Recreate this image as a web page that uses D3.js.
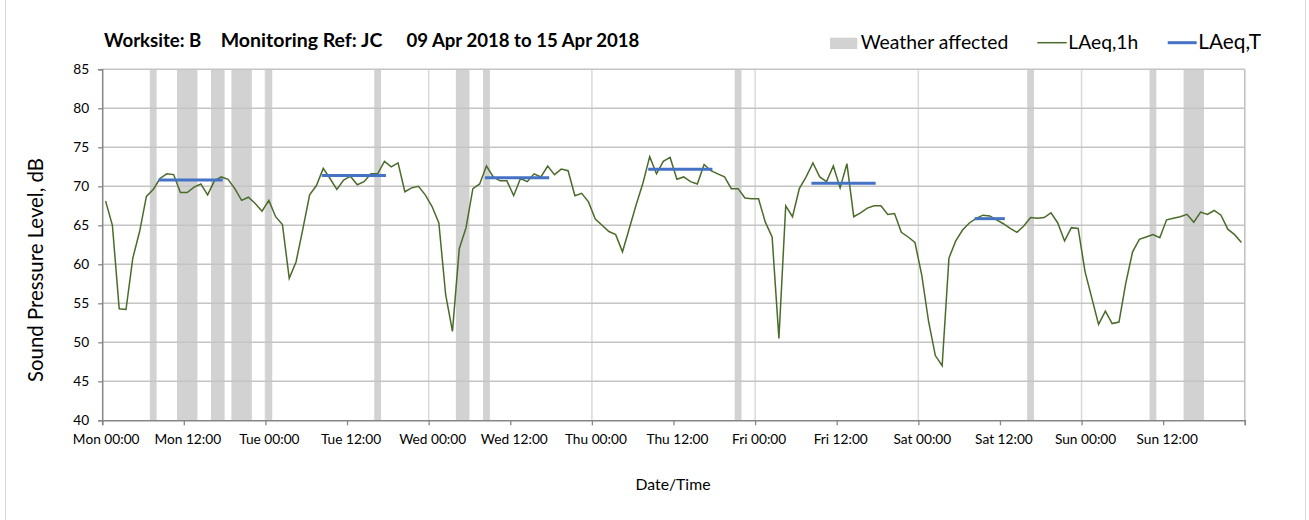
<!DOCTYPE html>
<html>
<head>
<meta charset="utf-8">
<script src="https://cdn.jsdelivr.net/npm/d3@7"></script>
<style>
  html, body { margin: 0; padding: 0; background: #fff; }
  svg { display: block; }
  text { font-family: Lato, "Open Sans", sans-serif; fill: #000; }
</style>
</head>
<body>
<svg id="chart" width="1309" height="520"></svg>
<script>
// ---------------- DATA ----------------
const titleParts = ["Worksite: B", "Monitoring Ref: JC", "09 Apr 2018 to 15 Apr 2018"];

// hourly LAeq,1h values, Mon 00:00 .. Sun 23:00 (168 hours)
const laeq1h = [
  68.1, 65.0, 54.3, 54.2, 60.8, 64.2, 68.7, 69.6, 71.0, 71.6, 71.5, 69.2, 69.2, 69.9, 70.3, 68.9, 70.7, 71.2, 70.9, 69.7, 68.2, 68.6, 67.8, 66.8,
  68.2, 66.1, 65.1, 58.2, 60.3, 64.5, 68.9, 70.1, 72.3, 71.0, 69.6, 70.8, 71.3, 70.2, 70.6, 71.6, 71.6, 73.2, 72.5, 73.0, 69.3, 69.8, 70.0, 68.9,
  67.4, 65.3, 56.1, 51.4, 62.0, 64.7, 69.7, 70.3, 72.6, 71.2, 70.7, 70.7, 68.8, 71.0, 70.6, 71.6, 71.2, 72.6, 71.5, 72.2, 72.0, 68.8, 69.1, 68.0,
  65.8, 65.0, 64.2, 63.8, 61.6, 64.6, 67.6, 70.4, 73.8, 71.6, 73.2, 73.7, 70.9, 71.2, 70.6, 70.3, 72.8, 72.0, 71.6, 71.2, 69.7, 69.7, 68.5, 68.4,
  68.4, 65.4, 63.5, 50.5, 67.5, 66.1, 69.7, 71.2, 73.0, 71.2, 70.6, 72.6, 69.8, 72.9, 66.1, 66.6, 67.2, 67.5, 67.5, 66.4, 66.5, 64.1, 63.5, 62.8,
  58.6, 52.7, 48.3, 47.0, 60.8, 63.0, 64.4, 65.3, 65.9, 66.3, 66.2, 65.7, 65.2, 64.6, 64.1, 64.9, 66.0, 65.9, 66.0, 66.6, 65.3, 63.0, 64.7, 64.6,
  59.1, 55.7, 52.3, 54.0, 52.4, 52.6, 57.6, 61.6, 63.2, 63.5, 63.8, 63.4, 65.7, 65.9, 66.1, 66.4, 65.4, 66.7, 66.4, 66.9, 66.3, 64.5, 63.8, 62.8
];

// hours flagged as weather affected (hour index from Mon 00:00)
const weatherHours = [7, 11, 12, 13, 16, 17, 19, 20, 21, 24, 40, 52, 53, 56, 93, 136, 154, 159, 160, 161];

// LAeq,T daytime periods (first hour index, last hour index, level)
const laeqTStart = [8, 32, 56, 80, 104, 128];
const laeqTEnd   = [17, 41, 65, 89, 113, 132];
const laeqTValue = [70.8, 71.4, 71.1, 72.2, 70.4, 65.85];

const xTickHours  = [0, 12, 24, 36, 48, 60, 72, 84, 96, 108, 120, 132, 144, 156, 168];
const xTickLabels = ["Mon 00:00", "Mon 12:00", "Tue 00:00", "Tue 12:00", "Wed 00:00", "Wed 12:00", "Thu 00:00",
                     "Thu 12:00", "Fri 00:00", "Fri 12:00", "Sat 00:00", "Sat 12:00", "Sun 00:00", "Sun 12:00", ""];
const yTicks = [40, 45, 50, 55, 60, 65, 70, 75, 80, 85];
const legendLabels = ["Weather affected", "LAeq,1h", "LAeq,T"];

// ---------------- CHART ----------------
const svg = d3.select("#chart");
const plotLeft = 102.2, plotRight = 1244.8, plotTop = 69.3, plotBottom = 420.3;

const x = d3.scaleLinear().domain([0, 168]).range([plotLeft, plotRight]);
const y = d3.scaleLinear().domain([40, 85]).range([plotBottom, plotTop]);

// helper: fit text to a target width by adjusting font-size
function fit(sel, target) {
  const node = sel.node();
  const base = parseFloat(sel.attr("font-size"));
  const w = node.getComputedTextLength();
  if (w > 0) sel.attr("font-size", (base * target / w).toFixed(2));
  return sel;
}

// chart area border
svg.append("rect").attr("x", 5.5).attr("y", -5).attr("width", 1300).attr("height", 530)
  .attr("fill", "none").attr("stroke", "#d9d9d9").attr("stroke-width", 1);

// weather bars: merge consecutive flagged hours into runs
const runs = [];
weatherHours.slice().sort((a, b) => a - b).forEach(h => {
  const last = runs[runs.length - 1];
  if (last && last[1] === h) last[1] = h + 1; else runs.push([h, h + 1]);
});
svg.append("g").selectAll("rect").data(runs).join("rect")
  .attr("x", d => x(d[0])).attr("width", d => x(d[1]) - x(d[0]))
  .attr("y", y(85)).attr("height", y(40) - y(85))
  .attr("fill", "#d2d2d2");

// vertical gridlines at each day start
svg.append("g").selectAll("line").data(xTickHours.filter(h => h % 24 === 0 && h > 0 && h < 168)).join("line")
  .attr("x1", d => x(d)).attr("x2", d => x(d))
  .attr("y1", y(85)).attr("y2", y(40))
  .attr("stroke", "#d9d9d9").attr("stroke-width", 1.5);

// horizontal gridlines
svg.append("g").selectAll("line").data(yTicks.filter(v => v > 40)).join("line")
  .attr("x1", plotLeft).attr("x2", plotRight)
  .attr("y1", d => y(d)).attr("y2", d => y(d))
  .attr("stroke", "#c4c4c4").attr("stroke-width", 1.5);

// right plot border
svg.append("line").attr("x1", plotRight).attr("x2", plotRight).attr("y1", y(85)).attr("y2", y(40))
  .attr("stroke", "#bfbfbf").attr("stroke-width", 1.5);

// LAeq,1h line
const line = d3.line().x((d, i) => x(i + 0.5)).y(d => y(d));
svg.append("path").datum(laeq1h).attr("d", line)
  .attr("fill", "none").attr("stroke", "#4b6b2b").attr("stroke-width", 1.5)
  .attr("stroke-linejoin", "miter");

// LAeq,T segments
svg.append("g").selectAll("line").data(laeqTValue).join("line")
  .attr("x1", (d, i) => x(laeqTStart[i] + 0.5)).attr("x2", (d, i) => x(laeqTEnd[i] + 0.5))
  .attr("y1", d => y(d)).attr("y2", d => y(d))
  .attr("stroke", "#4472c4").attr("stroke-width", 3).attr("stroke-linecap", "square");

// axes
const yAxis = d3.axisLeft(y).tickValues(yTicks).tickSize(4).tickFormat(d3.format("d"));
const gy = svg.append("g").attr("transform", `translate(${plotLeft},0)`).call(yAxis);
gy.select(".domain").attr("stroke", "#868686").attr("stroke-width", 1.5);
gy.selectAll(".tick line").attr("stroke", "#868686").attr("stroke-width", 1.3);
gy.selectAll(".tick text").attr("font-family", "Lato, sans-serif").attr("font-size", 13)
  .attr("x", -13).attr("fill", "#000");

const xAxis = d3.axisBottom(x).tickValues(xTickHours).tickSize(5)
  .tickFormat((d, i) => xTickLabels[i]);
const gx = svg.append("g").attr("transform", `translate(0,${plotBottom})`).call(xAxis);
gx.select(".domain").attr("stroke", "#868686").attr("stroke-width", 1.5);
gx.selectAll(".tick line").attr("stroke", "#868686").attr("stroke-width", 1.3);
gx.selectAll(".tick text").attr("font-family", "Lato, sans-serif").attr("font-size", 13)
  .attr("x", 3.5).attr("y", 14).attr("fill", "#000");
// fit tick label font size
{
  const t = gx.select(".tick text");
  const w = t.node().getComputedTextLength();
  const fs = 13 * 66.7 / w;
  gx.selectAll(".tick text").attr("font-size", fs.toFixed(2));
  gy.selectAll(".tick text").attr("font-size", fs.toFixed(2));
}

// title
const titleX = [104, 220.7, 406.4];
const titleW = [97.4, 161.8, 233.2];
titleParts.forEach((t, i) => {
  const s = svg.append("text").attr("x", titleX[i]).attr("y", 47)
    .attr("font-size", 16).attr("font-weight", "bold").text(t);
  fit(s, titleW[i]);
});

// axis titles
fit(svg.append("text").attr("transform", `translate(43,270) rotate(-90)`)
  .attr("text-anchor", "middle").attr("font-size", 17).text("Sound Pressure Level, dB"), 224);
fit(svg.append("text").attr("x", 673).attr("y", 490)
  .attr("text-anchor", "middle").attr("font-size", 17).text("Date/Time"), 75);

// legend
const lg = svg.append("g");
lg.append("rect").attr("x", 830).attr("y", 37.7).attr("width", 27.3).attr("height", 11.3).attr("fill", "#d2d2d2");
fit(lg.append("text").attr("x", 860.7).attr("y", 49).attr("font-size", 17).text(legendLabels[0]), 147.6);
lg.append("line").attr("x1", 1037.3).attr("x2", 1066.7).attr("y1", 42.7).attr("y2", 42.7)
  .attr("stroke", "#4b6b2b").attr("stroke-width", 1.5);
fit(lg.append("text").attr("x", 1068.3).attr("y", 49).attr("font-size", 17).text(legendLabels[1]), 70);
lg.append("line").attr("x1", 1167.7).attr("x2", 1196.7).attr("y1", 42.7).attr("y2", 42.7)
  .attr("stroke", "#4472c4").attr("stroke-width", 3);
fit(lg.append("text").attr("x", 1198.3).attr("y", 49).attr("font-size", 17).text(legendLabels[2]), 62.7);
</script>
</body>
</html>
